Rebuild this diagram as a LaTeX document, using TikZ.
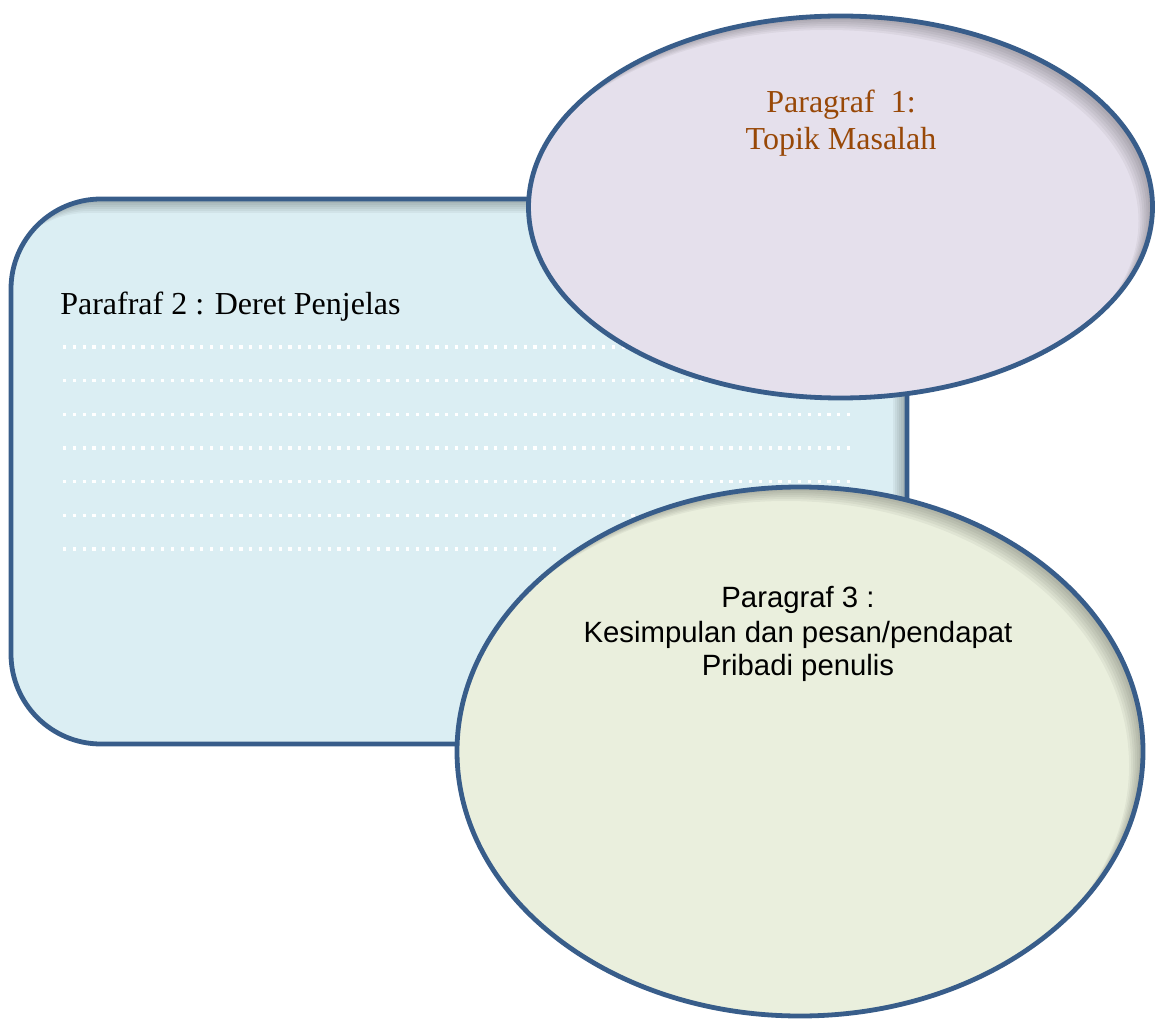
\documentclass[tikz,border=0pt]{standalone}
\usepackage{fontspec}
\setmainfont{Liberation Serif}
\newfontfamily\arialf{Liberation Sans}
\usetikzlibrary{shapes.geometric}
\definecolor{bordercol}{RGB}{56,93,138}
\definecolor{rectfill}{RGB}{219,238,243}
\definecolor{ellAfill}{RGB}{229,224,236}
\definecolor{ellBfill}{RGB}{234,239,221}
\definecolor{browntext}{RGB}{152,72,7}
\tikzset{
  shapeborder/.style={draw=bordercol, line width=3.6pt, inner sep=0pt, outer sep=0pt},
  dotline/.style={white, line width=2.4pt, dash pattern=on 2.4pt off 4.95pt},
  serifbig/.style={font=\fontsize{24}{27.75}\selectfont, inner sep=0pt},
  sansbig/.style={font=\arialf\fontsize{22}{25.5}\selectfont, inner sep=0pt}
}
\begin{document}
\begin{tikzpicture}[x=0.75pt, y=-0.75pt]
\useasboundingbox (0,0) rectangle (1155,1019);

% rounded rectangle
\node[shapeborder, fill=rectfill, rectangle, rounded corners=67.5pt,
  minimum width=672pt, minimum height=408.75pt,
  path picture={
    \foreach \dd in {2,4,...,14}
      \fill[black, opacity=0.045, even odd rule]
        (-3000,-3000) rectangle (3000,3000)
        [rounded corners=67.5pt] ([shift={(-\dd,\dd)}]path picture bounding box.south west)
        rectangle ([shift={(-\dd,\dd)}]path picture bounding box.north east);
  }] (rect) at (459,471.5) {};

\foreach \i in {0,...,5}
  \draw[dotline] (63,{347+33.67*\i}) -- (850,{347+33.67*\i});
\draw[dotline] (63,549) -- (556,549);

\node[serifbig, anchor=base west] (t2) at (60,315) {Parafraf 2 : Deret Penjelas};

% ellipse 1
\node[shapeborder, fill=ellAfill, ellipse,
  minimum width=468pt, minimum height=286.5pt,
  path picture={
    \foreach \dd in {2,4,...,14}
      \fill[black, opacity=0.045, even odd rule]
        (-3000,-3000) rectangle (3000,3000)
        ([shift={(-\dd,\dd)}]path picture bounding box.center)
        ellipse [x radius=234pt, y radius=143.25pt];
  }] (e1) at (840.5,207) {};
\node[serifbig, text=browntext, anchor=base] (t1a) at (841,113) {Paragraf\ \ 1:};
\node[serifbig, text=browntext, anchor=base] (t1b) at (841,150) {Topik Masalah};

% ellipse 2
\node[shapeborder, fill=ellBfill, ellipse,
  minimum width=514.5pt, minimum height=396.75pt,
  path picture={
    \foreach \dd in {2,4,...,14}
      \fill[black, opacity=0.045, even odd rule]
        (-3000,-3000) rectangle (3000,3000)
        ([shift={(-\dd,\dd)}]path picture bounding box.center)
        ellipse [x radius=257.25pt, y radius=198.375pt];
  }] (e2) at (800,751.5) {};
\node[sansbig, anchor=base] (t3a) at (798,607) {Paragraf 3 :};
\node[sansbig, anchor=base] (t3b) at (798,642) {Kesimpulan dan pesan/pendapat};
\node[sansbig, anchor=base] (t3c) at (798,675) {Pribadi penulis};
\end{tikzpicture}
\end{document}
